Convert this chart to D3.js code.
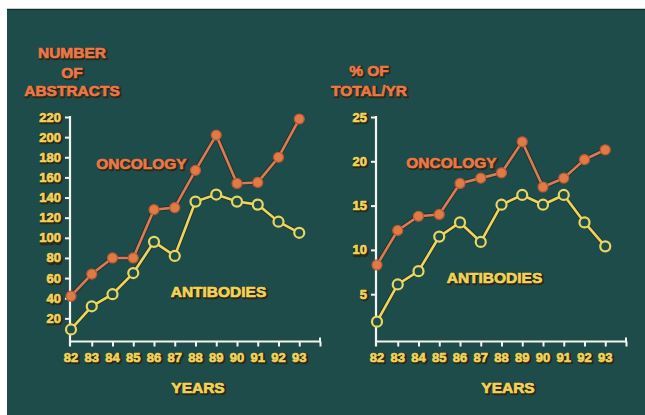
<!DOCTYPE html>
<html><head><meta charset="utf-8">
<script src="https://cdn.jsdelivr.net/npm/d3@7/dist/d3.min.js"></script>
<style>
html,body{margin:0;padding:0;background:#fff;}
svg{display:block;}
text{font-family:"Liberation Sans",Arial,sans-serif;font-weight:bold;}
</style></head>
<body>
<script>
const years = [82,83,84,85,86,87,88,89,90,91,92,93];
const axisYears = [82,83,84,85,86,87,88,89,90,91,92,93,94];
const abstractsOncology = [42,64,80,80,128,130,167,202,154,155,180,218];
const abstractsAntibodies = [9,32,44,65,96,82,136,143,136,133,116,105];
const pctOncology = [8.3,12.2,13.8,14.0,17.5,18.1,18.7,22.2,17.1,18.1,20.2,21.3];
const pctAntibodies = [1.9,6.1,7.6,11.5,13.1,10.9,15.1,16.2,15.1,16.2,13.1,10.4];
const leftTicks = [20,40,60,80,100,120,140,160,180,200,220];
const rightTicks = [5,10,15,20,25];
const leftTitle = ["NUMBER","OF","ABSTRACTS"];
const rightTitle = ["% OF","TOTAL/YR"];

const W=645,H=415;
const BG="#1e4c4a", ORANGE="#d97a58", ORANGE_FILL="#e27a45", YELLOW="#ead660", LABEL_ORANGE="#e8784a", TICK_YELLOW="#f0d35a", DARK="#2a2a18";

const svg=d3.select("body").append("svg").attr("width",W).attr("height",H);
svg.append("rect").attr("x",0).attr("y",0).attr("width",W).attr("height",H).attr("fill","#fff");
svg.append("rect").attr("x",7).attr("y",9).attr("width",W-7).attr("height",H-9).attr("fill",BG);
svg.append("line").attr("x1",7).attr("x2",W).attr("y1",9.5).attr("y2",9.5).attr("stroke","#143432").attr("stroke-width",1.5);

function txt(g,x,y,s,size,color,anchor){
  g.append("text").attr("x",x+1.2).attr("y",y+1.2).attr("font-size",size).attr("text-anchor",anchor)
    .attr("fill",DARK).attr("stroke",DARK).attr("stroke-width",2.4).attr("stroke-linejoin","round").text(s);
  g.append("text").attr("x",x).attr("y",y).attr("font-size",size).attr("text-anchor",anchor)
    .attr("fill",color).attr("stroke",color).attr("stroke-width",0.7).attr("stroke-linejoin","round").text(s);
}

function panel(cfg){
  const g=svg.append("g");
  const x=d3.scaleLinear().domain([82,94]).range([cfg.x0,cfg.x0+12*20.75]);
  const y=d3.scaleLinear().domain([0,cfg.max]).range([338.5,117]);
  const axisY=341.5, axisX=cfg.axisX;
  const ya=g.append("g").attr("transform",`translate(${axisX},0)`)
    .call(d3.axisLeft(y).tickValues(cfg.ticks).tickSize(5).tickFormat(""));
  ya.select(".domain").remove();
  ya.selectAll("line").attr("stroke","#f4f4ee").attr("stroke-width",2);
  g.append("line").attr("x1",axisX).attr("x2",axisX).attr("y1",y(cfg.max)-1).attr("y2",axisY+5)
    .attr("stroke","#f4f4ee").attr("stroke-width",2.2);
  const xa=g.append("g").attr("transform",`translate(0,${axisY})`)
    .call(d3.axisBottom(x).tickValues(axisYears.slice(1)).tickSize(5).tickFormat(""));
  xa.select(".domain").remove();
  xa.selectAll("line").attr("stroke","#f4f4ee").attr("stroke-width",2);
  g.append("line").attr("x1",axisX-1).attr("x2",x(94)+1).attr("y1",axisY).attr("y2",axisY)
    .attr("stroke","#f4f4ee").attr("stroke-width",2.2);
  g.append("line").attr("x1",x(94)).attr("x2",x(94)).attr("y1",axisY-4).attr("y2",axisY+1)
    .attr("stroke","#f4f4ee").attr("stroke-width",2);
  cfg.ticks.forEach(t=>txt(g,axisX-9,y(t)+4.5,String(t),13,TICK_YELLOW,"end"));
  years.forEach(t=>txt(g,x(t),362,String(t),13,TICK_YELLOW,"middle"));
  cfg.title.forEach((s,i)=>txt(g,cfg.titleX,cfg.titleY[i],s,15.5,LABEL_ORANGE,"middle"));
  const line=d3.line().x((d,i)=>x(years[i])).y(d=>y(d));
  [[cfg.anti,YELLOW,false],[cfg.onc,ORANGE,true]].forEach(([data,col,filled])=>{
    g.append("path").datum(data).attr("d",line).attr("fill","none").attr("stroke",DARK).attr("stroke-width",4.5).attr("stroke-opacity",0.7);
    g.append("path").datum(data).attr("d",line).attr("fill","none").attr("stroke",col).attr("stroke-width",2.6);
    g.selectAll(null).data(data).enter().append("circle")
      .attr("cx",(d,i)=>x(years[i])).attr("cy",d=>y(d)).attr("r",5)
      .attr("fill",filled?ORANGE_FILL:BG).attr("stroke",filled?"#b85a35":col).attr("stroke-width",filled?1.2:2.2);
  });
  txt(g,cfg.oncLabel[0],cfg.oncLabel[1],"ONCOLOGY",15.5,LABEL_ORANGE,"middle");
  txt(g,cfg.antiLabel[0],cfg.antiLabel[1],"ANTIBODIES",15.5,TICK_YELLOW,"middle");
  txt(g,cfg.yearsX,393,"YEARS",15.5,TICK_YELLOW,"middle");
}

panel({x0:71,axisX:70,max:220,ticks:leftTicks,onc:abstractsOncology,anti:abstractsAntibodies,
  title:leftTitle,titleX:72,titleY:[58,77.5,96],oncLabel:[141.5,168.5],antiLabel:[218.5,296.5],yearsX:198});
panel({x0:377,axisX:376,max:25,ticks:rightTicks,onc:pctOncology,anti:pctAntibodies,
  title:rightTitle,titleX:369,titleY:[76,96],oncLabel:[451.5,168],antiLabel:[494.5,283],yearsX:508});
</script>
</body></html>
